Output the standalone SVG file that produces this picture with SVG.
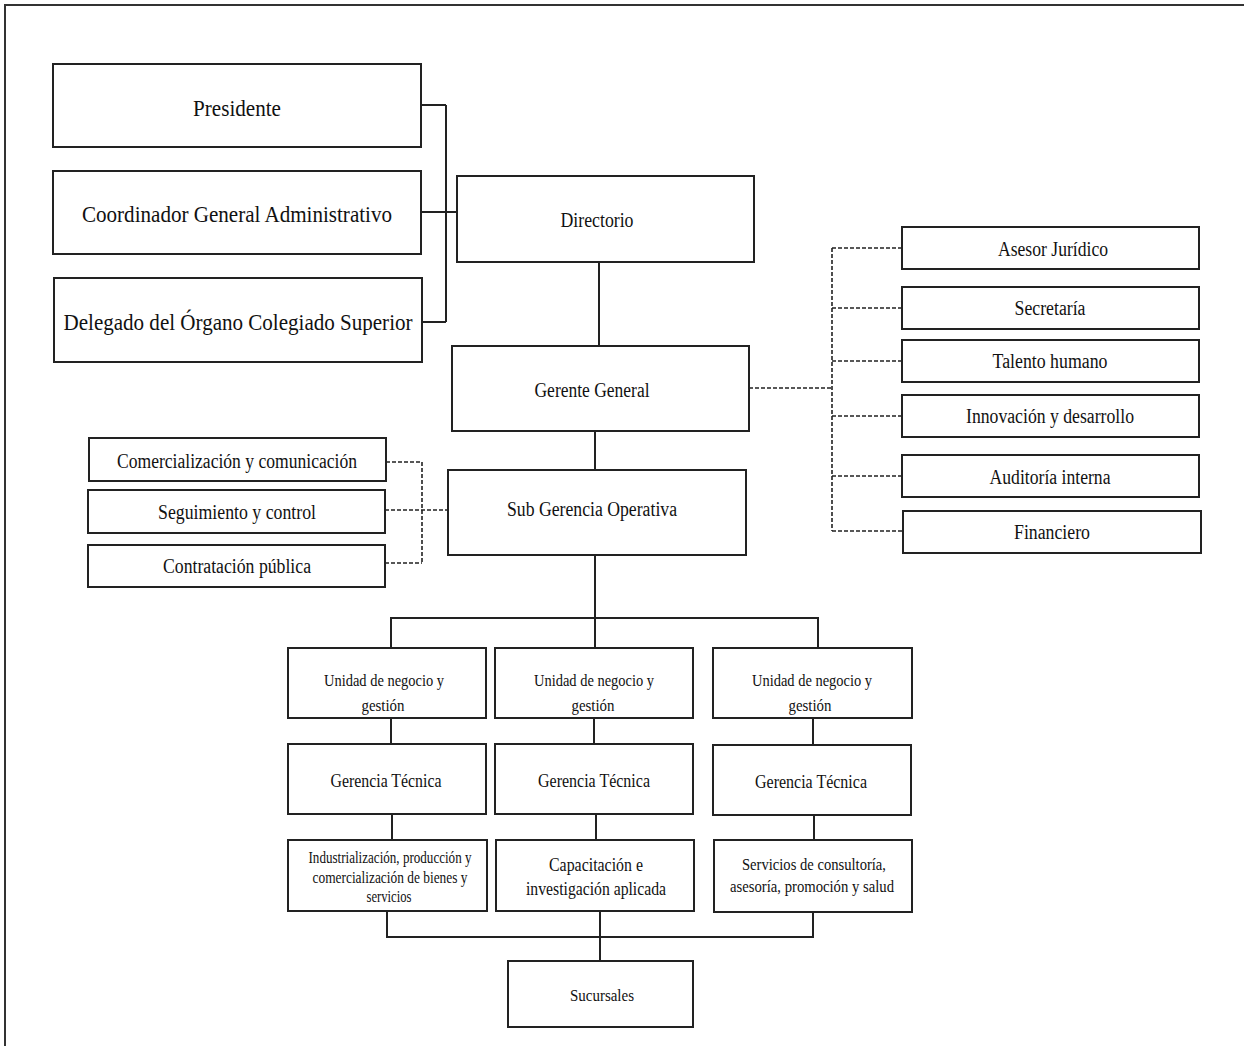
<svg xmlns="http://www.w3.org/2000/svg" width="1244" height="1046" viewBox="0 0 1244 1046">
<style>
.box{fill:#fff;stroke:#222;stroke-width:2}
.ln{fill:none;stroke:#222;stroke-width:2}
.ds{fill:none;stroke:#222;stroke-width:1.6;stroke-dasharray:4 2}
text{font-family:"Liberation Serif","Times New Roman",serif;fill:#111;text-anchor:middle}
.t24{font-size:24px}
.t21{font-size:21px}
.t20{font-size:20px}
.t18{font-size:18px}
.t17{font-size:17px}
</style>
<rect width="1244" height="1046" fill="#fff"/>
<path d="M5,1046 V5 H1244" fill="none" stroke="#333" stroke-width="2"/>
<g id="connectors">
<path class="ln" d="M421,105 H446 M421,212 H456 M422,322 H446 M446,105 V322"/>
<path class="ln" d="M599,262 V346"/>
<path class="ln" d="M595,431 V470"/>
<path class="ln" d="M595,555 V648 M391,648 V618 H818 V648"/>
<path class="ln" d="M391,718 V744 M594,718 V744 M813,718 V745"/>
<path class="ln" d="M392,814 V840 M596,814 V840 M814,815 V840"/>
<path class="ln" d="M387,911 V937 H813 V913 M600,911 V961"/>
<path class="ds" d="M749,388 H832 M832,248 V531 M832,248 H902 M832,308 H902 M832,361 H902 M832,416 H902 M832,476 H902 M832,531 H903"/>
<path class="ds" d="M386,462 H422 M385,510 H448 M385,563 H422 M422,462 V563"/>
</g>
<g id="presidente"><rect class="box" x="53" y="64" width="368" height="83"/><text class="t24" x="237" y="116" textLength="88" lengthAdjust="spacingAndGlyphs">Presidente</text></g>
<g id="coordinador"><rect class="box" x="53" y="171" width="368" height="83"/><text class="t24" x="237" y="222" textLength="310" lengthAdjust="spacingAndGlyphs">Coordinador General Administrativo</text></g>
<g id="delegado"><rect class="box" x="54" y="278" width="368" height="84"/><text class="t24" x="238" y="330" textLength="349" lengthAdjust="spacingAndGlyphs">Delegado del Órgano Colegiado Superior</text></g>
<g id="directorio"><rect class="box" x="457" y="176" width="297" height="86"/><text class="t21" x="597" y="227" textLength="73" lengthAdjust="spacingAndGlyphs">Directorio</text></g>
<g id="gerente"><rect class="box" x="452" y="346" width="297" height="85"/><text class="t20" x="592" y="397" textLength="115" lengthAdjust="spacingAndGlyphs">Gerente General</text></g>
<g id="asesor"><rect class="box" x="902" y="227" width="297" height="42"/><text class="t20" x="1053" y="256" textLength="110" lengthAdjust="spacingAndGlyphs">Asesor Jurídico</text></g>
<g id="secretaria"><rect class="box" x="902" y="287" width="297" height="42"/><text class="t20" x="1050" y="315" textLength="71" lengthAdjust="spacingAndGlyphs">Secretaría</text></g>
<g id="talento"><rect class="box" x="902" y="340" width="297" height="42"/><text class="t20" x="1050" y="368" textLength="115" lengthAdjust="spacingAndGlyphs">Talento humano</text></g>
<g id="innovacion"><rect class="box" x="902" y="395" width="297" height="42"/><text class="t20" x="1050" y="423" textLength="168" lengthAdjust="spacingAndGlyphs">Innovación y desarrollo</text></g>
<g id="auditoria"><rect class="box" x="902" y="455" width="297" height="42"/><text class="t20" x="1050" y="484" textLength="121" lengthAdjust="spacingAndGlyphs">Auditoría interna</text></g>
<g id="financiero"><rect class="box" x="903" y="511" width="298" height="42"/><text class="t20" x="1052" y="539" textLength="76" lengthAdjust="spacingAndGlyphs">Financiero</text></g>
<g id="comercializacion"><rect class="box" x="89" y="438" width="297" height="43"/><text class="t20" x="237" y="468" textLength="240" lengthAdjust="spacingAndGlyphs">Comercialización y comunicación</text></g>
<g id="seguimiento"><rect class="box" x="88" y="490" width="297" height="43"/><text class="t20" x="237" y="519" textLength="158" lengthAdjust="spacingAndGlyphs">Seguimiento y control</text></g>
<g id="contratacion"><rect class="box" x="88" y="545" width="297" height="42"/><text class="t20" x="237" y="573" textLength="148" lengthAdjust="spacingAndGlyphs">Contratación pública</text></g>
<g id="subgerencia"><rect class="box" x="448" y="470" width="298" height="85"/><text class="t20" x="592" y="516" textLength="170" lengthAdjust="spacingAndGlyphs">Sub Gerencia Operativa</text></g>
<g id="unidad1"><rect class="box" x="288" y="648" width="198" height="70"/><text class="t17" x="384" y="686" textLength="120" lengthAdjust="spacingAndGlyphs">Unidad de negocio y</text><text class="t17" x="383" y="711" textLength="43" lengthAdjust="spacingAndGlyphs">gestión</text></g>
<g id="unidad2"><rect class="box" x="495" y="648" width="198" height="70"/><text class="t17" x="594" y="686" textLength="120" lengthAdjust="spacingAndGlyphs">Unidad de negocio y</text><text class="t17" x="593" y="711" textLength="43" lengthAdjust="spacingAndGlyphs">gestión</text></g>
<g id="unidad3"><rect class="box" x="713" y="648" width="199" height="70"/><text class="t17" x="812" y="686" textLength="120" lengthAdjust="spacingAndGlyphs">Unidad de negocio y</text><text class="t17" x="810" y="711" textLength="43" lengthAdjust="spacingAndGlyphs">gestión</text></g>
<g id="gerencia1"><rect class="box" x="288" y="744" width="198" height="70"/><text class="t18" x="386" y="787" textLength="111" lengthAdjust="spacingAndGlyphs">Gerencia Técnica</text></g>
<g id="gerencia2"><rect class="box" x="495" y="744" width="198" height="70"/><text class="t18" x="594" y="787" textLength="112" lengthAdjust="spacingAndGlyphs">Gerencia Técnica</text></g>
<g id="gerencia3"><rect class="box" x="713" y="745" width="198" height="70"/><text class="t18" x="811" y="788" textLength="112" lengthAdjust="spacingAndGlyphs">Gerencia Técnica</text></g>
<g id="industrializacion"><rect class="box" x="288" y="840" width="199" height="71"/><text class="t17" x="390" y="863" textLength="163" lengthAdjust="spacingAndGlyphs">Industrialización, producción y</text><text class="t17" x="390" y="883" textLength="155" lengthAdjust="spacingAndGlyphs">comercialización de bienes y</text><text class="t17" x="389" y="902" textLength="45" lengthAdjust="spacingAndGlyphs">servicios</text></g>
<g id="capacitacion"><rect class="box" x="496" y="840" width="198" height="71"/><text class="t18" x="596" y="871" textLength="94" lengthAdjust="spacingAndGlyphs">Capacitación e</text><text class="t18" x="596" y="895" textLength="140" lengthAdjust="spacingAndGlyphs">investigación aplicada</text></g>
<g id="servicios"><rect class="box" x="714" y="840" width="198" height="72"/><text class="t17" x="814" y="870" textLength="144" lengthAdjust="spacingAndGlyphs">Servicios de consultoría,</text><text class="t17" x="812" y="892" textLength="164" lengthAdjust="spacingAndGlyphs">asesoría, promoción y salud</text></g>
<g id="sucursales"><rect class="box" x="508" y="961" width="185" height="66"/><text class="t17" x="602" y="1001" textLength="64" lengthAdjust="spacingAndGlyphs">Sucursales</text></g>
</svg>
